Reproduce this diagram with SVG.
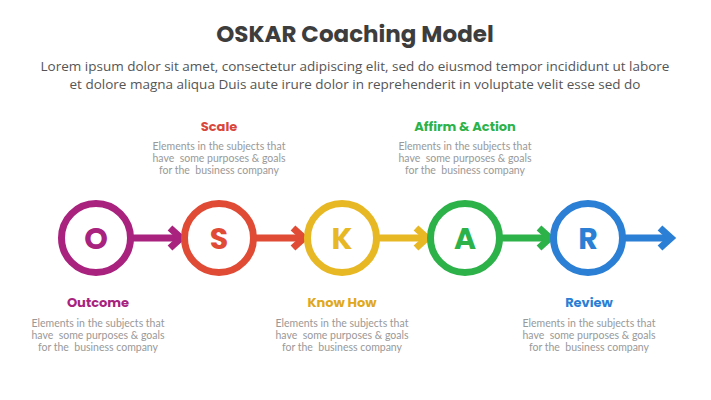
<svg xmlns="http://www.w3.org/2000/svg" width="711" height="400" viewBox="0 0 711 400">
<style>
.t{font-family:Poppins,"Open Sans",sans-serif;font-weight:bold;font-size:23px;fill:#3d3d3d;text-anchor:middle}
.s{font-family:"Open Sans",sans-serif;font-size:13.5px;fill:#555;text-anchor:middle}
.h{font-family:Poppins,"Open Sans",sans-serif;font-weight:bold;font-size:13px;text-anchor:middle}
.d{font-family:Lato,sans-serif;font-size:10.5px;fill:#999;text-anchor:middle;white-space:pre}
.c{fill:#fff;stroke-width:7}
.l{font-family:Poppins,"Open Sans",sans-serif;font-weight:bold;font-size:30px;text-anchor:middle}
</style>
<rect width="711" height="400" fill="#fff"/>
<text class="t" x="355" y="42">OSKAR Coaching Model</text>
<text class="s" x="355" y="71">Lorem ipsum dolor sit amet, consectetur adipiscing elit, sed do eiusmod tempor incididunt ut labore</text>
<text class="s" x="355" y="89">et dolore magna aliqua Duis aute irure dolor in reprehenderit in voluptate velit esse sed do</text>
<g id="connectors" stroke-width="7" fill="none" stroke-linejoin="miter">
<g stroke="#A8227E"><path d="M132 238H180"/><path d="M170 228L181 238L170 248"/></g>
<g stroke="#E04B36"><path d="M255 238H303"/><path d="M293 228L304 238L293 248"/></g>
<g stroke="#E8B824"><path d="M378 238H426"/><path d="M416 228L427 238L416 248"/></g>
<g stroke="#2DB24A"><path d="M501 238H549"/><path d="M539 228L550 238L539 248"/></g>
<g stroke="#2B7FD4"><path d="M624 238H670"/><path d="M660 228L671 238L660 248"/></g>
</g>
<g id="O"><circle class="c" cx="96" cy="238" r="34.5" stroke="#A8227E"/><text class="l" x="96" y="249" fill="#A8227E">O</text>
<text class="h" x="98" y="307" fill="#A8227E">Outcome</text>
<text class="d" x="98" y="327">Elements in the subjects that</text><text class="d" x="98" y="339">have  some purposes &amp; goals</text><text class="d" x="98" y="351">for the  business company</text></g>
<g id="S"><circle class="c" cx="219" cy="238" r="34.5" stroke="#E04B36"/><text class="l" x="219" y="249" fill="#E04B36">S</text>
<text class="h" x="219" y="131" fill="#D9463A">Scale</text>
<text class="d" x="219" y="150">Elements in the subjects that</text><text class="d" x="219" y="162">have  some purposes &amp; goals</text><text class="d" x="219" y="174">for the  business company</text></g>
<g id="K"><circle class="c" cx="342" cy="238" r="34.5" stroke="#E8B824"/><text class="l" x="342" y="249" fill="#E8B824">K</text>
<text class="h" x="342" y="307" fill="#E0A81C">Know How</text>
<text class="d" x="342" y="327">Elements in the subjects that</text><text class="d" x="342" y="339">have  some purposes &amp; goals</text><text class="d" x="342" y="351">for the  business company</text></g>
<g id="A"><circle class="c" cx="465" cy="238" r="34.5" stroke="#2DB24A"/><text class="l" x="465" y="249" fill="#2DB24A">A</text>
<text class="h" x="465" y="131" fill="#2DB24A">Affirm &amp; Action</text>
<text class="d" x="465" y="150">Elements in the subjects that</text><text class="d" x="465" y="162">have  some purposes &amp; goals</text><text class="d" x="465" y="174">for the  business company</text></g>
<g id="R"><circle class="c" cx="588" cy="238" r="34.5" stroke="#2B7FD4"/><text class="l" x="588" y="249" fill="#2B7FD4">R</text>
<text class="h" x="589" y="307" fill="#2B7FD4">Review</text>
<text class="d" x="589" y="327">Elements in the subjects that</text><text class="d" x="589" y="339">have  some purposes &amp; goals</text><text class="d" x="589" y="351">for the  business company</text></g>
</svg>
